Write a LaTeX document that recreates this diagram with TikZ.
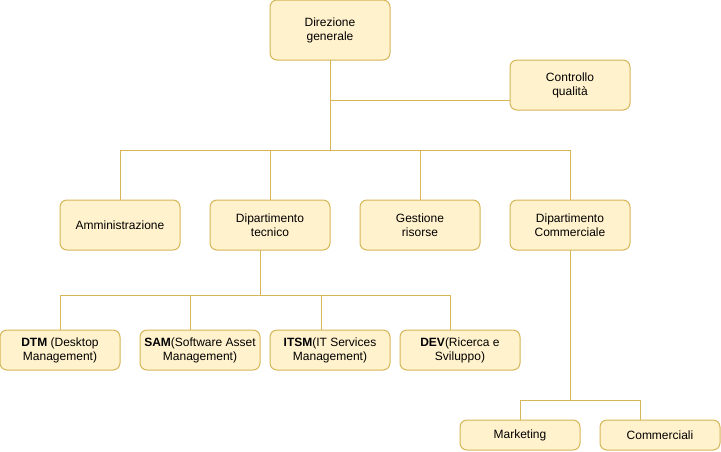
\documentclass[tikz,border=0pt]{standalone}
\usepackage{fontspec}
\setmainfont{Liberation Sans}
\usetikzlibrary{positioning}
\definecolor{boxfill}{HTML}{FFF2CC}
\definecolor{boxline}{HTML}{D6B656}

\begin{document}
\begin{tikzpicture}[
  x = 1pt,
  y = -1pt,
  unit/.style = {
    draw = boxline,
    fill = boxfill,
    rectangle,
    rounded corners = 7pt,
    line width = 1pt,
    outer sep = 0pt,
    minimum width = 120pt,
    minimum height = 50pt,
    align = center,
    font = \fontsize{12}{14}\selectfont,
  },
  head/.style = {
    unit,
    minimum height = 60pt,
  },
  team/.style = {
    unit,
    minimum height = 40pt,
    inner sep = 1pt,
  },
  area/.style = {
    unit,
    minimum height = 30pt,
  },
  link/.style = {
    draw = boxline,
    line width = 1pt,
  },
]

  \useasboundingbox (0,0) rectangle (721,451);

  \node[head] (dir) at (330,30) {Direzione\\generale};
  \node[unit] (qual) at (570,85) {Controllo\\qualità};

  \node[unit] (amm) at (120,225) {Amministrazione};
  \node[unit] (dt) [right=30pt of amm] {Dipartimento\\tecnico};
  \node[unit] (gr) [right=30pt of dt] {Gestione\\risorse};
  \node[unit] (com) [right=30pt of gr] {Dipartimento\\Commerciale};

  \node[team] (dtm) at (60,350) {\textbf{DTM} (Desktop\\Management)};
  \node[team] (sam) [right=20pt of dtm] {\textbf{SAM}(Software Asset\\Management)};
  \node[team] (itsm) [right=10pt of sam] {\textbf{ITSM}(IT Services\\Management)};
  \node[team] (dev) [right=10pt of itsm] {\textbf{DEV}(Ricerca e\\Sviluppo)};

  \node[area] (mkt) at (520,435) {Marketing};
  \node[area] (comm) [right=20pt of mkt] {Commerciali};

  \coordinate (hub) at ([yshift=-90pt]dir.south);
  \coordinate (techhub) at ([xshift=-10pt,yshift=-45pt]dt.south);
  \coordinate (salehub) at ([yshift=-150pt]com.south);

  \path[link] (dir.south) |- ([yshift=-15pt]qual.west);
  \path[link] (dir.south) -- (hub);
  \path[link] (hub) -| (amm.north);
  \path[link] (hub) -| (dt.north);
  \path[link] (hub) -| (gr.north);
  \path[link] (hub) -| (com.north);

  \path[link] ([xshift=-10pt]dt.south) -- (techhub);
  \path[link] (techhub) -| (dtm.north);
  \path[link] (techhub) -| ([xshift=-10pt]sam.north);
  \path[link] (techhub) -| ([xshift=-9pt]itsm.north);
  \path[link] (techhub) -| ([xshift=-10pt]dev.north);

  \path[link] (com.south) -- (salehub);
  \path[link] (salehub) -| (mkt.north);
  \path[link] (salehub) -| ([xshift=-20pt]comm.north);

\end{tikzpicture}
\end{document}
